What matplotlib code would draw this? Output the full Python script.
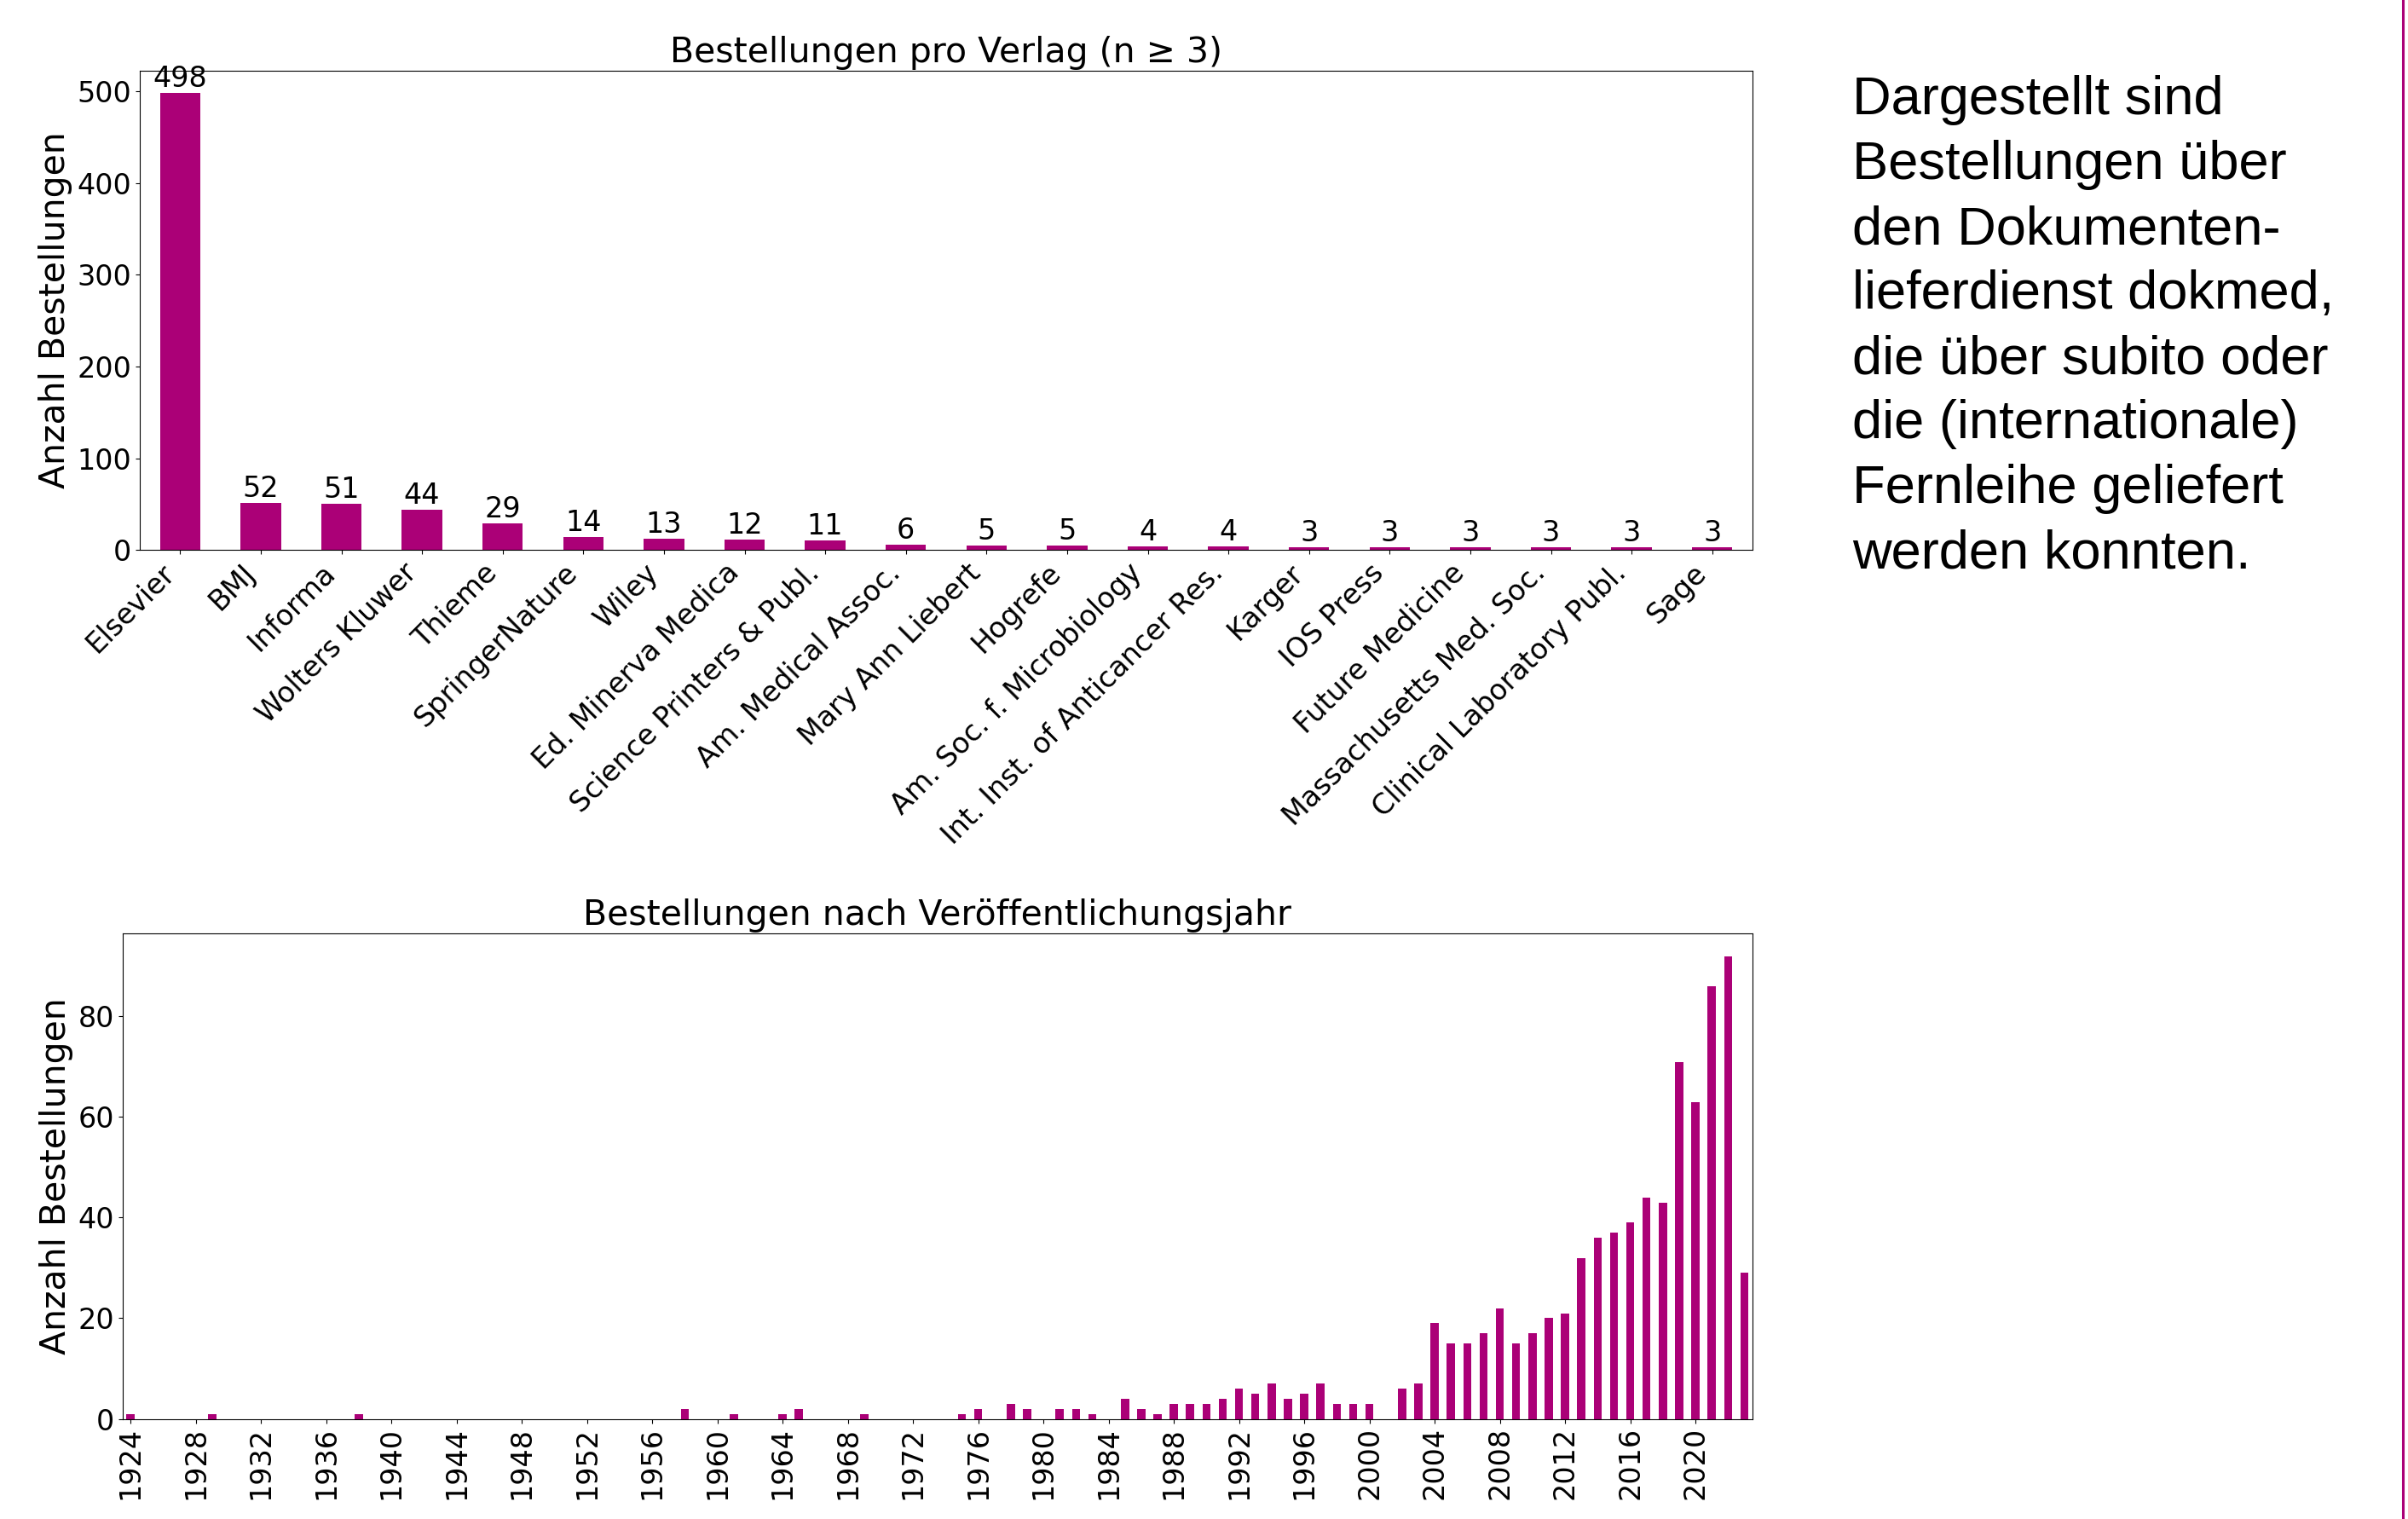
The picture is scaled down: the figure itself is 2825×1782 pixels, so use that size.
import matplotlib
matplotlib.use("Agg")
import matplotlib.pyplot as plt
from matplotlib.lines import Line2D

# ---- data ----
publishers = ["Elsevier", "BMJ", "Informa", "Wolters Kluwer", "Thieme", "SpringerNature",
              "Wiley", "Ed. Minerva Medica", "Science Printers & Publ.", "Am. Medical Assoc.",
              "Mary Ann Liebert", "Hogrefe", "Am. Soc. f. Microbiology",
              "Int. Inst. of Anticancer Res.", "Karger", "IOS Press", "Future Medicine",
              "Massachusetts Med. Soc.", "Clinical Laboratory Publ.", "Sage"]
publisher_counts = [498, 52, 51, 44, 29, 14, 13, 12, 11, 6, 5, 5, 4, 4, 3, 3, 3, 3, 3, 3]

years = list(range(1924, 2024))
year_counts = [
    1, 0, 0, 0, 0, 1, 0, 0, 0, 0,        # 1924-1933
    0, 0, 0, 0, 1, 0, 0, 0, 0, 0,        # 1934-1943
    0, 0, 0, 0, 0, 0, 0, 0, 0, 0,        # 1944-1953
    0, 0, 0, 0, 2, 0, 0, 1, 0, 0,        # 1954-1963
    1, 2, 0, 0, 0, 1, 0, 0, 0, 0,        # 1964-1973
    0, 1, 2, 0, 3, 2, 0, 2, 2, 1,        # 1974-1983
    0, 4, 2, 1, 3, 3, 3, 4, 6, 5,        # 1984-1993
    7, 4, 5, 7, 3, 3, 3, 0, 6, 7,        # 1994-2003
    19, 15, 15, 17, 22, 15, 17, 20, 21, 32,  # 2004-2013
    36, 37, 39, 44, 43, 71, 63, 86, 92, 29,  # 2014-2023
]
year_tick_labels = [str(y) for y in years[::4]]

note_text = ("Dargestellt sind\nBestellungen über\nden Dokumenten-\nlieferdienst dokmed,\n"
             "die über subito oder\ndie (internationale)\nFernleihe geliefert\nwerden konnten.")

COLOR = "#AB0077"
TICK_FS = 24
LABEL_FS = 29.5

W, H = 2825, 1782
fig = plt.figure(figsize=(W / 100, H / 100), dpi=100)
fig.patch.set_facecolor("white")

# ---- top chart ----
ax1 = fig.add_axes([164 / W, 1 - 645.5 / H, 1892 / W, 563 / H])
x1 = list(range(len(publishers)))
ax1.bar(x1, publisher_counts, width=0.5, color=COLOR)
ax1.set_xlim(-0.5, len(publishers) - 0.5)
ax1.set_ylim(0, max(publisher_counts) * 1.05)
ax1.set_xticks(x1)
ax1.set_xticklabels(publishers, rotation=45, ha="right", rotation_mode="default")
ax1.tick_params(axis="both", labelsize=TICK_FS)
ax1.set_yticks([0, 100, 200, 300, 400, 500])
for xi, v in zip(x1, publisher_counts):
    ax1.text(xi, v, str(v), ha="center", va="bottom", fontsize=TICK_FS)
ax1.set_title("Bestellungen pro Verlag (n \u2265 3)", fontsize=LABEL_FS)
ax1.set_ylabel("Anzahl Bestellungen", fontsize=LABEL_FS)

# ---- bottom chart ----
ax2 = fig.add_axes([143.6 / W, 1 - 1664.5 / H, (2056 - 143.6) / W, (1664.5 - 1094.5) / H])
x2 = list(range(len(years)))
ax2.bar(x2, year_counts, width=0.5, color=COLOR)
ax2.set_xlim(-0.5, len(years) - 0.5)
ax2.set_ylim(0, max(year_counts) * 1.05)
ax2.set_xticks(x2[::4])
ax2.set_xticklabels(year_tick_labels, rotation=90)
ax2.set_yticks([0, 20, 40, 60, 80])
ax2.tick_params(axis="both", labelsize=TICK_FS)
ax2.set_title("Bestellungen nach Veröffentlichungsjahr", fontsize=LABEL_FS)
ax2.set_ylabel("Anzahl Bestellungen", fontsize=LABEL_FS)

# ---- note text ----
fig.text(2173 / W, 1 - 88 / H, note_text, ha="left", va="top",
         fontsize=45.5, family="Liberation Sans", linespacing=1.37)

# ---- right magenta border line ----
fig.add_artist(Line2D([2818.5 / W, 2818.5 / W], [0, 1], transform=fig.transFigure,
                      color=COLOR, linewidth=2.2))

fig.savefig("out.png", dpi=100, facecolor="white")
